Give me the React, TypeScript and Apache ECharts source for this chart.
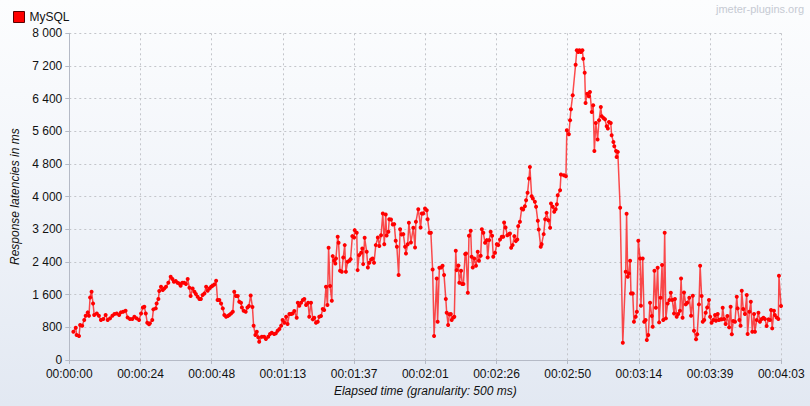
import React, { useEffect, useRef } from "react";
import * as echarts from "echarts";

const seriesName = "MySQL";
const watermark = "jmeter-plugins.org";
const xAxisTitle = "Elapsed time (granularity: 500 ms)";
const yAxisTitle = "Response latencies in ms";
const xTickLabels = [
  "00:00:00", "00:00:24", "00:00:48", "00:01:13", "00:01:37", "00:02:01",
  "00:02:26", "00:02:50", "00:03:14", "00:03:39", "00:04:03",
];

// elapsed time of each sample (seconds)
const elapsedSec = [
  1.4, 2.2, 2.5, 3.3, 3.7, 4.4, 5.1, 5.6, 6.3, 6.7, 7.1, 7.6, 8.1, 8.5, 9.4, 10.1, 10.8, 11.6, 12.4, 13.1,
  13.9, 14.7, 15.4, 16.2, 17.0, 17.6, 18.4, 19.2, 19.9, 20.7, 21.5, 22.2, 23.0, 23.8, 24.5, 25.1, 25.6, 26.1, 26.6, 27.2,
  27.5, 28.3, 28.7, 29.5, 29.8, 30.4, 30.7, 31.3, 31.9, 32.4, 33.0, 33.8, 34.6, 35.2, 35.7, 36.3, 36.9, 37.5, 38.0, 38.6,
  39.2, 39.8, 40.4, 41.0, 41.4, 42.1, 42.7, 43.2, 43.8, 44.4, 44.9, 45.5, 46.1, 46.7, 47.2, 47.8, 48.4, 48.9, 49.5, 50.1,
  50.6, 51.2, 51.8, 52.4, 52.9, 53.5, 54.1, 54.6, 55.2, 55.8, 56.3, 56.9, 57.5, 58.0, 58.6, 58.9, 59.5, 60.2, 60.8, 61.3,
  61.9, 62.5, 62.9, 63.5, 64.0, 64.5, 64.8, 65.7, 66.5, 67.1, 67.9, 68.5, 69.1, 69.9, 70.5, 71.1, 71.7, 72.3, 72.8, 73.4,
  74.0, 74.5, 75.1, 75.7, 76.2, 76.8, 77.6, 78.0, 78.5, 79.1, 79.7, 80.2, 80.8, 81.5, 81.9, 82.5, 83.1, 83.6, 84.2, 84.8,
  85.3, 85.9, 86.5, 87.0, 87.6, 88.1, 88.5, 89.0, 89.6, 89.9, 90.4, 90.8, 91.0, 91.6, 91.9, 92.4, 93.0, 93.5, 94.0, 94.4,
  95.0, 95.6, 96.0, 96.6, 97.2, 97.4, 98.1, 98.4, 98.9, 99.6, 100.0, 100.3, 100.8, 101.5, 101.9, 102.4, 103.0, 103.5, 104.0, 104.6,
  105.3, 105.8, 106.4, 107.0, 107.5, 108.0, 108.3, 108.9, 109.2, 109.8, 110.4, 110.9, 111.4, 111.8, 112.4, 112.9, 113.4, 114.0, 114.6, 114.9,
  115.5, 115.9, 116.6, 117.4, 118.0, 118.3, 119.1, 119.9, 120.3, 120.8, 121.4, 122.0, 122.3, 122.9, 123.4, 124.0, 124.5, 125.4, 125.7, 126.3,
  126.9, 127.4, 127.9, 128.5, 128.8, 129.3, 129.7, 130.2, 130.5, 131.1, 131.4, 131.9, 132.2, 132.8, 133.1, 133.7, 134.1, 134.5, 135.1, 135.4,
  136.0, 136.4, 137.0, 137.3, 137.7, 138.2, 138.8, 139.4, 139.8, 140.4, 140.8, 141.3, 141.9, 142.5, 142.8, 143.3, 143.8, 144.3, 144.7, 145.3,
  145.9, 146.4, 147.0, 147.6, 148.1, 148.4, 148.9, 149.5, 150.1, 150.4, 150.8, 151.3, 151.9, 152.4, 152.9, 153.2, 153.8, 154.4, 154.9, 155.5,
  155.9, 156.4, 156.9, 157.2, 157.8, 158.2, 158.9, 159.3, 159.9, 160.2, 160.9, 161.2, 161.9, 162.4, 162.9, 163.5, 164.1, 164.4, 165.0, 165.5,
  166.0, 166.4, 166.7, 167.5, 167.8, 168.8, 169.5, 169.8, 170.5, 170.9, 171.2, 171.8, 172.8, 173.2, 173.7, 174.1, 174.6, 175.1, 175.4, 175.9,
  176.2, 176.8, 177.3, 177.7, 178.3, 178.8, 179.2, 179.7, 180.3, 180.8, 181.4, 181.7, 182.3, 182.8, 183.4, 183.8, 184.2, 184.8, 185.1, 185.7,
  186.0, 186.6, 186.8, 187.2, 188.0, 188.9, 189.9, 190.2, 190.6, 191.0, 191.4, 191.7, 192.3, 192.7, 193.3, 193.7, 194.2, 194.8, 195.1, 195.7,
  196.2, 196.7, 197.1, 197.6, 198.2, 198.8, 199.1, 199.7, 200.2, 200.8, 201.3, 201.8, 202.3, 202.7, 203.2, 203.6, 204.2, 204.8, 205.3, 205.8,
  206.4, 206.7, 207.3, 207.8, 208.4, 208.8, 209.3, 209.8, 210.4, 210.9, 211.6, 212.2, 212.8, 213.2, 213.9, 214.3, 214.9, 215.3, 215.8, 216.2,
  216.7, 217.2, 217.7, 218.3, 218.7, 219.2, 219.8, 220.4, 220.7, 221.3, 221.7, 222.3, 222.7, 223.0, 223.5, 224.0, 224.6, 225.2, 225.7, 226.1,
  226.6, 227.2, 227.8, 228.1, 228.7, 229.1, 229.5, 230.0, 230.6, 231.2, 231.5, 232.1, 232.6, 233.1, 233.7, 234.0, 234.6, 235.2, 235.7, 236.3,
  236.9, 237.4, 238.0, 238.6, 239.1, 239.5, 239.9, 240.5, 240.8, 241.4, 242.0, 242.2, 242.9,
];

// response latency of each sample (ms)
const latencyMs = [
  692, 790, 611, 587, 856, 839, 978, 1084, 1166, 1084, 1533, 1671, 1386, 1100, 1141, 1084, 978, 1003, 1100, 978,
  1019, 1084, 1125, 1141, 1100, 1166, 1182, 1206, 1043, 1003, 1003, 1059, 1019, 978, 1141, 1288, 1304, 1141, 913, 873,
  897, 978, 1240, 1264, 1386, 1492, 1688, 1793, 1712, 1753, 1793, 1891, 2037, 1981, 1916, 1932, 1891, 1875, 1818, 1891,
  1891, 1859, 1981, 1769, 1565, 1753, 1671, 1614, 1549, 1492, 1492, 1590, 1631, 1793, 1695, 1753, 1793, 1818, 1850, 1940,
  1468, 1468, 1386, 1264, 1100, 1059, 1076, 1100, 1141, 1182, 1671, 1565, 1565, 1427, 1402, 1288, 1206, 1182, 1288, 1320,
  1580, 1300, 839, 611, 692, 554, 448, 570, 570, 514, 570, 636, 668, 636, 652, 717, 758, 839, 978, 913,
  1059, 880, 1125, 1125, 1141, 1198, 1035, 1402, 1329, 1402, 1468, 1492, 1345, 1402, 1059, 1402, 995, 1035, 913, 937,
  1059, 1076, 1247, 1223, 1793, 1345, 2747, 1810, 1451, 2544, 2429, 2364, 2487, 3016, 2869, 2184, 2160, 2511, 2813, 2160,
  2404, 2429, 2470, 3033, 3000, 3180, 3114, 2201, 2568, 2625, 2731, 2348, 2991, 2649, 2267, 2381, 2462, 2487, 2381, 2813,
  3000, 2789, 3057, 3588, 2837, 3563, 3049, 3139, 3449, 3441, 3318, 3327, 2918, 2772, 2079, 3204, 3074, 3082, 2772, 2609,
  2837, 3359, 2878, 3236, 2756, 3384, 3693, 3245, 3588, 3588, 3710, 3669, 3449, 3114, 3114, 2218, 587, 1998, 937, 2258,
  2267, 2307, 2079, 1492, 1158, 856, 1117, 1125, 978, 1043, 1059, 2674, 2201, 2315, 1891, 2184, 1859, 1859, 2593, 2609,
  1646, 3041, 3163, 2527, 2267, 2487, 2307, 2649, 2429, 2552, 3204, 3114, 2869, 2935, 2511, 2935, 3139, 3041, 2527, 2625,
  2837, 2813, 2951, 3016, 3016, 3367, 3245, 3057, 3082, 3098, 2747, 2813, 3033, 2911, 2951, 3278, 3384, 3710, 3686, 3767,
  3914, 4093, 4444, 4728, 4012, 3955, 3873, 3751, 3408, 3197, 2772, 2837, 3082, 3449, 3603, 3424, 3236, 3833, 3751, 3628,
  3694, 3816, 4036, 4158, 4542, 4525, 4501, 5626, 5528, 5870, 6139, 6482, 7232, 7583, 7541, 7583, 7541, 7583, 7378, 7036,
  6294, 6522, 6457, 6563, 6074, 6237, 5120, 5804, 5397, 5870, 6196, 5968, 5926, 5894, 5723, 5667, 5829, 5804, 5504, 5340,
  5234, 5120, 4973, 5096, 3726, 423, 2160, 3580, 2037, 2120, 2429, 1631, 1631, 937, 1059, 1182, 2918, 2487, 1329, 2487,
  937, 978, 489, 611, 1402, 1076, 815, 2184, 1280, 2258, 921, 1524, 2324, 978, 3114, 1019, 1386, 1468, 1646, 1468,
  1141, 1492, 1059, 1125, 1206, 1998, 1035, 1655, 1362, 1402, 1524, 1084, 1573, 717, 506, 628, 1362, 2307, 1565, 937,
  978, 1158, 1288, 1468, 1059, 913, 978, 1100, 962, 1125, 978, 995, 995, 1280, 1003, 880, 1076, 799, 1304, 628,
  954, 937, 1549, 1264, 978, 839, 1695, 1247, 1125, 1590, 636, 1182, 1427, 692, 1125, 692, 978, 1158, 937, 1003,
  1035, 1003, 831, 995, 978, 1223, 774, 1206, 1100, 1043, 1003, 2062, 1320,
];

const FONT = '"Liberation Sans", Arial, sans-serif';
const AXIS_COLOR = "#b5bac6";
const GRID_COLOR = "#c3c5ca";

function groupThousands(v: number): string {
  return String(v).replace(/\B(?=(\d{3})+(?!\d))/g, " ");
}

export default function App() {
  const ref = useRef<HTMLDivElement>(null);

  useEffect(() => {
    if (!ref.current) return;
    const chart = echarts.init(ref.current, null, { renderer: "svg" });
    const data = elapsedSec.map((t, i) => [t, latencyMs[i]]);
    chart.setOption({
      animation: false,
      backgroundColor: "transparent",
      textStyle: { fontFamily: FONT },
      legend: {
        left: 8,
        top: 6,
        icon: "rect",
        itemWidth: 11,
        itemHeight: 11,
        itemGap: 5,
        data: [seriesName],
        textStyle: { fontSize: 12, color: "#111", fontFamily: FONT },
        itemStyle: { color: "#ff0000", borderColor: "#5a0000", borderWidth: 1 },
        selectedMode: false,
      },
      graphic: [
        {
          type: "text",
          right: 6,
          top: 3,
          style: {
            text: watermark,
            fill: "#c6cad3",
            font: `11px ${FONT}`,
          },
        },
      ],
      grid: { left: 69.3, right: 28.7, top: 33.3, bottom: 46, containLabel: false },
      xAxis: {
        type: "value",
        min: 0,
        max: 243,
        interval: 24.3,
        name: xAxisTitle,
        nameLocation: "middle",
        nameGap: 24,
        nameTextStyle: { fontStyle: "italic", fontSize: 12, color: "#111", fontFamily: FONT },
        axisLine: { show: true, lineStyle: { color: AXIS_COLOR, width: 1 } },
        axisTick: { show: true, length: 4, lineStyle: { color: AXIS_COLOR } },
        axisLabel: {
          color: "#111",
          fontSize: 12,
          margin: 8,
          fontFamily: FONT,
          showMinLabel: true,
          showMaxLabel: true,
          formatter: (v: number) => xTickLabels[Math.round(v / 24.3)] ?? "",
        },
        splitLine: { show: true, lineStyle: { type: [2, 3], color: GRID_COLOR, width: 1 } },
      },
      yAxis: {
        type: "value",
        min: 0,
        max: 8000,
        interval: 800,
        name: yAxisTitle,
        nameLocation: "middle",
        nameRotate: 90,
        nameGap: 47,
        nameTextStyle: { fontStyle: "italic", fontSize: 12, color: "#111", fontFamily: FONT },
        axisLine: { show: true, lineStyle: { color: AXIS_COLOR, width: 1 } },
        axisTick: { show: true, length: 4, lineStyle: { color: AXIS_COLOR } },
        axisLabel: {
          color: "#111",
          fontSize: 12,
          margin: 7,
          fontFamily: FONT,
          formatter: (v: number) => groupThousands(v),
        },
        splitLine: { show: true, lineStyle: { type: [2, 3], color: GRID_COLOR, width: 1 } },
      },
      series: [
        {
          type: "line",
          name: seriesName,
          data,
          symbol: "circle",
          symbolSize: 4,
          showSymbol: true,
          showAllSymbol: true,
          itemStyle: { color: "#ff0000" },
          lineStyle: { color: "rgba(255,0,0,0.7)", width: 1.5 },
          emphasis: { disabled: true },
        },
      ],
    });
    return () => chart.dispose();
  }, []);

  return (
    <div
      ref={ref}
      style={{
        position: "absolute",
        left: 0,
        top: 0,
        width: 810,
        height: 406,
        background: "linear-gradient(to bottom, #fcfdfe 0%, #f2f5fa 45%, #e2e8f2 100%)",
      }}
    />
  );
}
